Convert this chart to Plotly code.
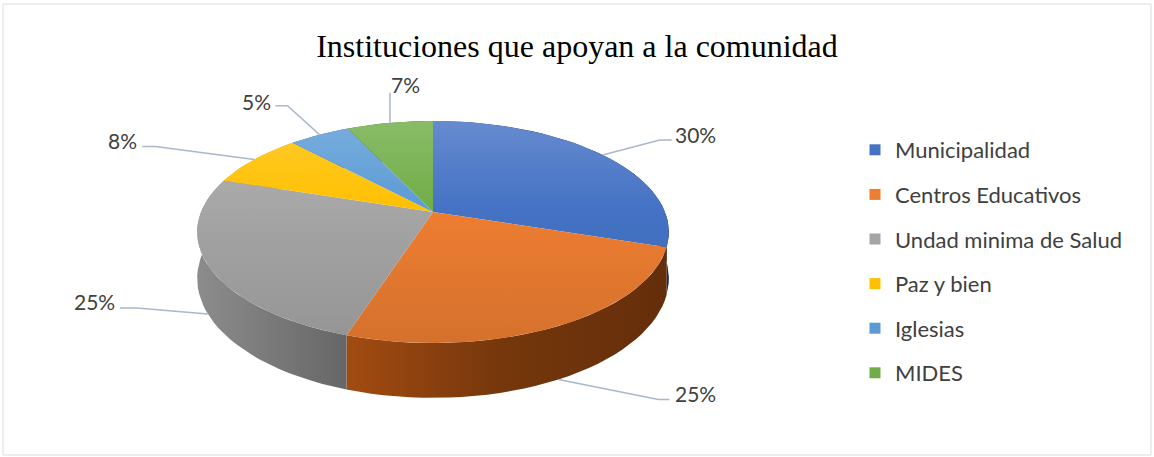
import math
import plotly.graph_objects as go

# ---------------- data ----------------
categories = ["Municipalidad", "Centros Educativos", "Undad minima de Salud",
              "Paz y bien", "Iglesias", "MIDES"]
percentages = [30, 25, 25, 8, 5, 7]
title_text = "Instituciones que apoyan a la comunidad"

# ---------------- style ----------------
base_colors = ["#4472C4", "#ED7D31", "#A5A5A5", "#FFC000", "#5B9BD5", "#70AD47"]
W, HGT = 1154, 457
CX, CY = 433.0, 212.0      # apex of the pie (projected centre)
A, B, K = 107.4, 232.0, 0.18  # perspective ellipse parameters
DEPTH = 45.0               # thickness of the pie
LEADER = "#A9B8CB"
TXT = "#404040"
FONT = "Lato, Carlito, Calibri, sans-serif"

# label offsets (elbow / line end / text centre) relative to the rim anchor
label_layout = [
    dict(elbow=(57, -15), end=(69, -15), text=(93, -20)),
    dict(elbow=(100, 20), end=(111, 20), text=(137, 14)),
    dict(elbow=(-71, -6), end=(-88, -6), text=(-113, -13)),
    dict(elbow=(-99, -13), end=(-112, -13), text=(-132, -19)),
    dict(elbow=(-32, -29), end=(-44, -29), text=(-63, -33)),
    dict(elbow=(0, -30), end=(0, -30), text=(16, -38)),
]


def hex2rgb(h):
    h = h.lstrip("#")
    return [int(h[i:i + 2], 16) for i in (0, 2, 4)]


def rgb(c):
    return "rgb(%d,%d,%d)" % tuple(max(0, min(255, round(v))) for v in c)


def proj(phi, drop=0.0):
    X, Y = math.sin(phi), math.cos(phi)
    den = 1 + K * Y
    return CX + B * X / den, CY - A * Y / den + drop * DEPTH / den


def top_color(base, y):
    t = (y - 121) / 222.0
    c = hex2rgb(base)
    if t < 0.4:
        m = (0.4 - t) / 0.4 * 0.18
        return [v + (255 - v) * m for v in c]
    f = 1 - (t - 0.4) / 0.6 * 0.10
    return [v * f for v in c]


def side_shade(x):
    pts = [(150, 0.88), (197, 0.85), (346, 0.62), (500, 0.45), (669, 0.38), (720, 0.36)]
    for (x0, s0), (x1, s1) in zip(pts, pts[1:]):
        if x <= x1:
            u = max(0.0, (x - x0) / (x1 - x0))
            return s0 + (s1 - s0) * u
    return pts[-1][1]


def side_color(base, x):
    c = hex2rgb(base)
    s = side_shade(x)
    out = [v * s for v in c]
    mean = sum(out) / 3
    return [v + (v - mean) * 0.25 for v in out]


total = float(sum(percentages))
bounds = []
acc = 0.0
for v in percentages:
    a0 = acc / total * 2 * math.pi
    acc += v
    a1 = acc / total * 2 * math.pi
    bounds.append((a0, a1))

fig = go.Figure()
N = 120

# side walls first
for i, (a0, a1) in enumerate(bounds):
    n = max(4, int(N * (a1 - a0) / (2 * math.pi)) + 4)
    phis = [a0 + (a1 - a0) * j / n for j in range(n + 1)]
    topp = [proj(p) for p in phis]
    bot = [proj(p, 1) for p in reversed(phis)]
    xs = [p[0] for p in topp + bot] + [topp[0][0]]
    ys = [p[1] for p in topp + bot] + [topp[0][1]]
    x0, x1 = min(xs), max(xs)
    stops = [[k / 6, rgb(side_color(base_colors[i], x0 + (x1 - x0) * k / 6))] for k in range(7)]
    fig.add_trace(go.Scatter(
        x=xs, y=ys, mode="lines", fill="toself", line=dict(width=0),
        fillgradient=dict(type="horizontal", colorscale=stops, start=x0, stop=x1),
        hoverinfo="skip", showlegend=False))

# top faces
for i, (a0, a1) in enumerate(bounds):
    n = max(4, int(N * (a1 - a0) / (2 * math.pi)) + 4)
    phis = [a0 + (a1 - a0) * j / n for j in range(n + 1)]
    pts = [(CX, CY)] + [proj(p) for p in phis] + [(CX, CY)]
    xs = [p[0] for p in pts]
    ys = [p[1] for p in pts]
    y0, y1 = min(ys), max(ys)
    stops = [[k / 6, rgb(top_color(base_colors[i], y0 + (y1 - y0) * k / 6))] for k in range(7)]
    fig.add_trace(go.Scatter(
        x=xs, y=ys, mode="lines", fill="toself", line=dict(width=0),
        fillgradient=dict(type="vertical", colorscale=stops, start=y0, stop=y1),
        name=categories[i], hoverinfo="skip", showlegend=False))

# leader lines and labels
for i, (a0, a1) in enumerate(bounds):
    mid = (a0 + a1) / 2
    front = math.cos(mid) < -0.3
    ax, ay = proj(mid, 1 if front else 0)
    lay = label_layout[i]
    ex, ey = ax + lay["elbow"][0], ay + lay["elbow"][1]
    fx, fy = ax + lay["end"][0], ay + lay["end"][1]
    fig.add_trace(go.Scatter(x=[ax, ex, fx], y=[ay, ey, fy], mode="lines",
                             line=dict(color=LEADER, width=1.5),
                             hoverinfo="skip", showlegend=False))
    fig.add_annotation(x=ax + lay["text"][0], y=ay + lay["text"][1],
                       text="%d%%" % percentages[i], showarrow=False,
                       font=dict(family=FONT, size=21, color=TXT),
                       xanchor="center", yanchor="middle")

# legend entries
for i, c in enumerate(categories):
    fig.add_trace(go.Scatter(x=[None], y=[None], mode="markers", name=c,
                             legendgroup=c,
                             marker=dict(symbol="square", size=11, color=base_colors[i]),
                             showlegend=True))

fig.add_shape(type="rect", xref="paper", yref="paper", x0=3 / W, x1=1151 / W,
              y0=1 - 455 / HGT, y1=1 - 4 / HGT, line=dict(color="#D9DCE1", width=1))

fig.update_layout(
    width=W, height=HGT,
    margin=dict(l=0, r=0, t=0, b=0),
    paper_bgcolor="white", plot_bgcolor="white",
    xaxis=dict(range=[0, W], visible=False, fixedrange=True),
    yaxis=dict(range=[HGT, 0], visible=False, fixedrange=True),
    title=dict(text=title_text, x=0.5, xanchor="center", y=1 - 46 / HGT, yanchor="middle",
               font=dict(family="Liberation Serif, Times New Roman, serif", size=32, color="black")),
    legend=dict(x=855 / W, xanchor="left", y=1 - 129 / HGT, yanchor="top",
                font=dict(family=FONT, size=22, color=TXT),
                tracegroupgap=13, bgcolor="rgba(0,0,0,0)"),
)

fig.write_html("out.html", config={"displayModeBar": False},
               post_script="document.body.style.margin='0px';")
